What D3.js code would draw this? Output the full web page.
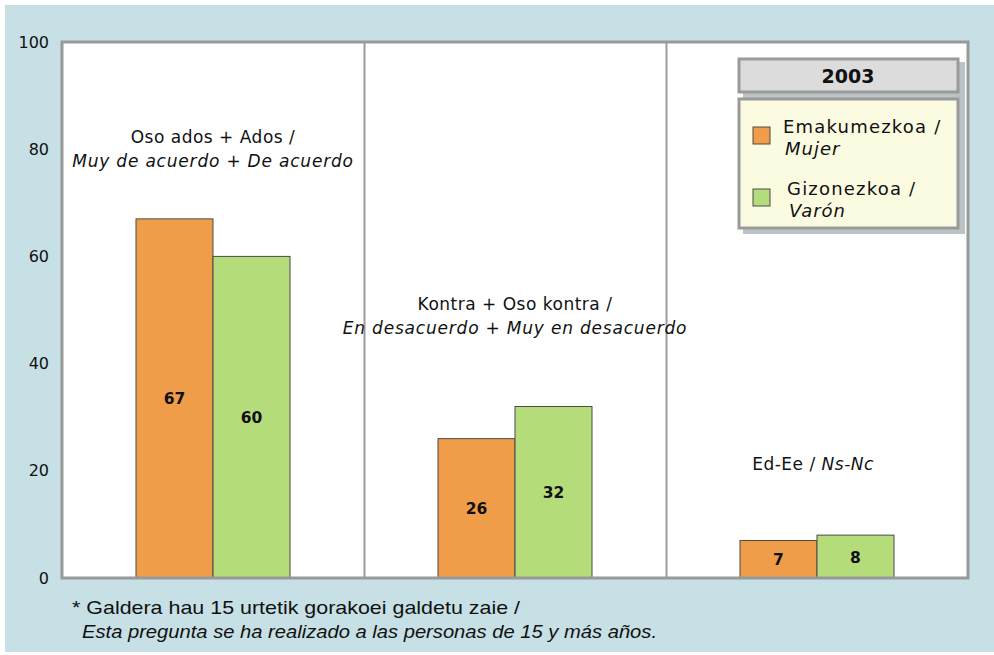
<!DOCTYPE html>
<html>
<head>
<meta charset="utf-8">
<script src="https://cdn.jsdelivr.net/npm/d3@7"></script>
<style>
  body { margin: 0; background: #fff; }
  svg { display: block; }
  .lbl { font-family: "DejaVu Sans", Verdana, sans-serif; }
  .foot { font-family: "Liberation Sans", Arial, sans-serif; }
</style>
</head>
<body>
<div id="chart"></div>
<script>
// data
const categories = ["ados", "kontra", "ns"];
const categoryLines = [
    ["Oso ados + Ados /", "Muy de acuerdo + De acuerdo"],
    ["Kontra + Oso kontra /", "En desacuerdo + Muy en desacuerdo"],
    ["Ed-Ee / ", "Ns-Nc"]
];
const seriesNames = [["Emakumezkoa /", "Mujer"], ["Gizonezkoa /", "Varón"]];
const mujer = [67, 26, 7];
const varon = [60, 32, 8];
const yTicks = [0, 20, 40, 60, 80, 100];
const legendTitle = "2003";
const footnote = ["* Galdera hau 15 urtetik gorakoei galdetu zaie /", "Esta pregunta se ha realizado a las personas de 15 y más años."];

const colors = ["#f09d49", "#b5dc7b"];
const W = 994, H = 655;
const plot = { left: 62, top: 42, right: 968, bottom: 578 };

const svg = d3.select('#chart').append('svg')
    .attr('width', W)
    .attr('height', H);

svg.append('rect')
    .attr('x', 5).attr('y', 5)
    .attr('width', W - 5).attr('height', H - 8)
    .attr('fill', '#c6e0e5');

svg.append('rect')
    .attr('x', plot.left).attr('y', plot.top)
    .attr('width', plot.right - plot.left)
    .attr('height', plot.bottom - plot.top)
    .attr('fill', '#fff');

const x = d3.scaleBand()
    .domain(categories)
    .range([plot.left, plot.right]);

const bw = 77;
const inner = d3.scaleBand()
    .domain([0, 1])
    .range([x.bandwidth() / 2 - bw, x.bandwidth() / 2 + bw]);

const y = d3.scaleLinear()
    .domain([0, 100])
    .range([plot.bottom, plot.top]);

// band dividers
categories.slice(1).forEach(c => {
    const xx = Math.round(x(c)) + 0.5;
    svg.append('line')
        .attr('x1', xx).attr('x2', xx)
        .attr('y1', plot.top).attr('y2', plot.bottom)
        .attr('stroke', '#cfcfcf').attr('stroke-width', 3);
    svg.append('line')
        .attr('x1', xx).attr('x2', xx)
        .attr('y1', plot.top).attr('y2', plot.bottom)
        .attr('stroke', '#9a9a9a').attr('stroke-width', 1);
});

// y axis labels
const yAxis = d3.axisLeft(y).tickValues(yTicks).tickSize(0).tickPadding(12);
const ga = svg.append('g')
    .attr('transform', `translate(${plot.left - 1},0)`)
    .call(yAxis);
ga.select('.domain').remove();
ga.selectAll('text')
    .attr('class', 'lbl')
    .attr('font-size', 16)
    .attr('fill', '#111');

// bars
const rows = categories.map((c, i) => ({ c, vals: [mujer[i], varon[i]] }));
const groups = svg.append('g').selectAll('g')
    .data(rows)
    .join('g')
    .attr('transform', d => `translate(${x(d.c)},0)`);

groups.selectAll('rect')
    .data(d => d.vals.map((v, s) => ({ v, s })))
    .join('rect')
    .attr('x', d => inner(d.s))
    .attr('y', d => y(d.v))
    .attr('width', inner.bandwidth())
    .attr('height', d => y(0) - y(d.v))
    .attr('fill', d => colors[d.s])
    .attr('stroke', '#4a4a4a')
    .attr('stroke-width', 1);

groups.selectAll('text.val')
    .data(d => d.vals.map((v, s) => ({ v, s })))
    .join('text')
    .attr('class', 'val lbl')
    .attr('x', d => inner(d.s) + inner.bandwidth() / 2)
    .attr('y', d => (y(d.v) + y(0)) / 2 + 6)
    .attr('text-anchor', 'middle')
    .attr('font-size', 15.5)
    .attr('font-weight', 'bold')
    .attr('fill', '#111')
    .text(d => d.v);

// category labels
const catPos = [[143, 167], [310, 334], [470, 470]];
categories.forEach((c, i) => {
    const cx = x(c) + x.bandwidth() / 2;
    if (i < 2) {
        svg.append('text').attr('class', 'lbl')
            .attr('x', cx).attr('y', catPos[i][0])
            .attr('text-anchor', 'middle')
            .attr('font-size', 17).attr('letter-spacing', 0.5).attr('fill', '#111')
            .text(categoryLines[i][0]);
        svg.append('text').attr('class', 'lbl')
            .attr('x', cx).attr('y', catPos[i][1])
            .attr('text-anchor', 'middle')
            .attr('font-size', 17).attr('letter-spacing', 0.8)
            .attr('font-style', 'italic').attr('fill', '#111')
            .text(categoryLines[i][1]);
    } else {
        const t = svg.append('text').attr('class', 'lbl')
            .attr('x', cx - 4).attr('y', catPos[i][0])
            .attr('text-anchor', 'middle')
            .attr('font-size', 17).attr('letter-spacing', 0.5).attr('fill', '#111');
        t.append('tspan').text(categoryLines[i][0]);
        t.append('tspan').attr('font-style', 'italic').text(categoryLines[i][1]);
    }
});

// plot frame
const frame = '#999';
svg.append('path')
    .attr('d', `M${plot.left},${plot.top} H${plot.right} V${plot.bottom} H${plot.left} Z`)
    .attr('fill', 'none')
    .attr('stroke', frame)
    .attr('stroke-width', 3);

// legend
const lg = svg.append('g');
lg.append('rect')
    .attr('x', 743).attr('y', 62).attr('width', 222).attr('height', 172)
    .attr('fill', '#a9b4b6').attr('opacity', 0.8);
lg.append('rect')
    .attr('x', 739).attr('y', 59).attr('width', 219).attr('height', 33)
    .attr('fill', '#dcdcdc').attr('stroke', '#9a9a9a').attr('stroke-width', 3);
lg.append('text').attr('class', 'lbl')
    .attr('x', 848).attr('y', 83)
    .attr('text-anchor', 'middle')
    .attr('font-size', 19).attr('font-weight', 'bold').attr('fill', '#111')
    .text(legendTitle);
lg.append('rect')
    .attr('x', 739).attr('y', 99).attr('width', 219).attr('height', 129)
    .attr('fill', '#fbfbe2').attr('stroke', '#9a9a9a').attr('stroke-width', 3);

const itemY = [120, 182];
seriesNames.forEach((s, i) => {
    lg.append('rect')
        .attr('x', 753).attr('y', itemY[i] + 7)
        .attr('width', 17).attr('height', 17)
        .attr('fill', colors[i]).attr('stroke', '#4a4a4a');
    lg.append('text').attr('class', 'lbl')
        .attr('x', 783 + i * 4).attr('y', itemY[i] + 13)
        .attr('font-size', 18).attr('letter-spacing', 1.2).attr('fill', '#111')
        .text(s[0]);
    lg.append('text').attr('class', 'lbl')
        .attr('x', 785 + i * 4).attr('y', itemY[i] + 35)
        .attr('font-size', 18).attr('letter-spacing', 1)
        .attr('font-style', 'italic').attr('fill', '#111')
        .text(s[1]);
});

// footnote (condensed face: squeeze a larger size into the original width)
svg.append('text').attr('class', 'foot')
    .attr('x', 72).attr('y', 614)
    .attr('font-size', 19).attr('fill', '#111')
    .attr('textLength', 448).attr('lengthAdjust', 'spacingAndGlyphs')
    .text(footnote[0]);
svg.append('text').attr('class', 'foot')
    .attr('x', 82).attr('y', 638)
    .attr('font-size', 19).attr('font-style', 'italic').attr('fill', '#111')
    .attr('textLength', 575).attr('lengthAdjust', 'spacingAndGlyphs')
    .text(footnote[1]);
</script>
</body>
</html>
